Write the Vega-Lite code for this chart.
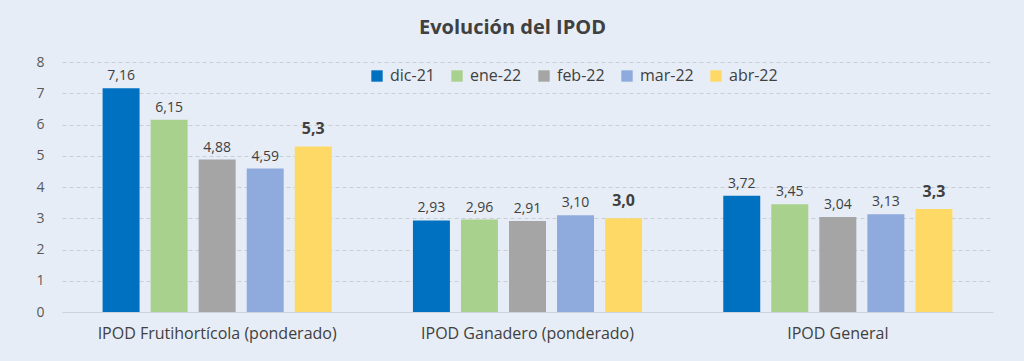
{
  "$schema": "https://vega.github.io/schema/vega-lite/v6.json",
  "autosize": {"type": "none"},
  "width": 931,
  "height": 250,
  "padding": {"left": 62, "top": 62, "right": 31, "bottom": 49},
  "background": "#E7EDF6",
  "title": {
    "text": "Evolución del IPOD",
    "font": "Open Sans",
    "fontSize": 20,
    "fontWeight": "bold",
    "color": "#404040",
    "anchor": "middle",
    "dx": -15,
    "offset": 17
  },
  "config": {
    "view": {"stroke": null},
    "font": "Open Sans"
  },
  "data": {
    "values": [
      {"cat": "IPOD Frutihortícola (ponderado)", "mes": "dic-21", "v": 7.16, "lab": "7,16", "b": 0},
      {"cat": "IPOD Frutihortícola (ponderado)", "mes": "ene-22", "v": 6.15, "lab": "6,15", "b": 0},
      {"cat": "IPOD Frutihortícola (ponderado)", "mes": "feb-22", "v": 4.88, "lab": "4,88", "b": 0},
      {"cat": "IPOD Frutihortícola (ponderado)", "mes": "mar-22", "v": 4.59, "lab": "4,59", "b": 0},
      {"cat": "IPOD Frutihortícola (ponderado)", "mes": "abr-22", "v": 5.3, "lab": "5,3", "b": 1},
      {"cat": "IPOD Ganadero (ponderado)", "mes": "dic-21", "v": 2.93, "lab": "2,93", "b": 0},
      {"cat": "IPOD Ganadero (ponderado)", "mes": "ene-22", "v": 2.96, "lab": "2,96", "b": 0},
      {"cat": "IPOD Ganadero (ponderado)", "mes": "feb-22", "v": 2.91, "lab": "2,91", "b": 0},
      {"cat": "IPOD Ganadero (ponderado)", "mes": "mar-22", "v": 3.10, "lab": "3,10", "b": 0},
      {"cat": "IPOD Ganadero (ponderado)", "mes": "abr-22", "v": 3.0, "lab": "3,0", "b": 1},
      {"cat": "IPOD General", "mes": "dic-21", "v": 3.72, "lab": "3,72", "b": 0},
      {"cat": "IPOD General", "mes": "ene-22", "v": 3.45, "lab": "3,45", "b": 0},
      {"cat": "IPOD General", "mes": "feb-22", "v": 3.04, "lab": "3,04", "b": 0},
      {"cat": "IPOD General", "mes": "mar-22", "v": 3.13, "lab": "3,13", "b": 0},
      {"cat": "IPOD General", "mes": "abr-22", "v": 3.3, "lab": "3,3", "b": 1}
    ]
  },
  "encoding": {
    "x": {
      "field": "cat", "type": "nominal", "sort": null,
      "scale": {"paddingInner": 0, "paddingOuter": 0},
      "axis": {
        "title": null, "labelAngle": 0, "labelFontSize": 16, "labelColor": "#404040",
        "labelLimit": 0, "ticks": false, "domainColor": "#D0D4DA", "labelPadding": 13
      }
    },
    "xOffset": {
      "field": "mes", "type": "nominal", "sort": null,
      "scale": {"paddingInner": 0.23, "paddingOuter": 0.845}
    },
    "y": {
      "field": "v", "type": "quantitative",
      "scale": {"domain": [0, 8]},
      "axis": {
        "title": null, "tickCount": 8, "domain": false, "ticks": false,
        "labelFontSize": 14, "labelColor": "#595959", "labelPadding": 18,
        "gridDash": [4, 3], "gridColor": "#C9CED6"
      }
    }
  },
  "layer": [
    {
      "mark": {"type": "bar"},
      "encoding": {
        "color": {
          "field": "mes", "type": "nominal", "sort": null,
          "scale": {
            "domain": ["dic-21", "ene-22", "feb-22", "mar-22", "abr-22"],
            "range": ["#0070C0", "#A9D18E", "#A5A5A5", "#8FAADC", "#FFD966"]
          },
          "legend": {
            "title": null, "orient": "none", "direction": "horizontal",
            "legendX": 307, "legendY": 6,
            "symbolType": "square", "symbolSize": 130, "symbolStrokeWidth": 0,
            "labelFontSize": 16, "labelColor": "#404040", "columnPadding": 14,
            "labelOffset": 5
          }
        }
      }
    },
    {
      "mark": {"type": "text", "baseline": "bottom", "dy": -5, "fontSize": 14, "color": "#404040"},
      "transform": [{"filter": "datum.b == 0"}],
      "encoding": {"text": {"field": "lab"}}
    },
    {
      "mark": {"type": "text", "baseline": "bottom", "dy": -9, "fontSize": 16, "fontWeight": "bold", "color": "#404040"},
      "transform": [{"filter": "datum.b == 1"}],
      "encoding": {"text": {"field": "lab"}}
    }
  ]
}
